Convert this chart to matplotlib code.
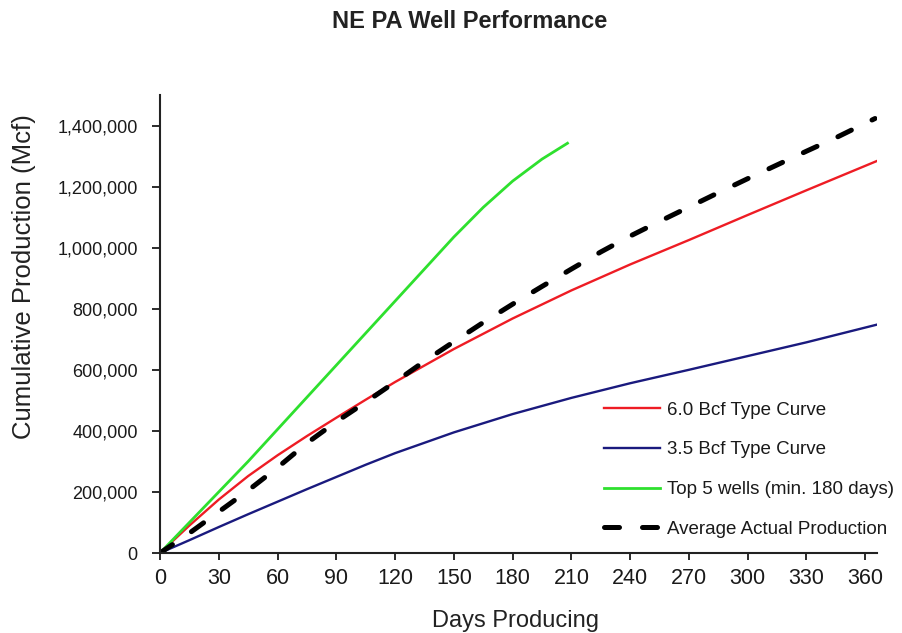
import matplotlib
matplotlib.use("Agg")
import matplotlib.pyplot as plt
from matplotlib.ticker import FuncFormatter

plt.rcParams['font.family'] = ['Liberation Sans', 'DejaVu Sans']

# ---- data ----
days_type = [0, 15, 30, 45, 60, 75, 90, 105, 120, 150, 180, 210, 240, 270, 300, 330, 366]
curve_6_0 = [0, 90000, 175000, 252000, 320000, 383000, 443000, 502000, 560000, 668000,
             768000, 860000, 945000, 1025000, 1107000, 1188000, 1284000]
curve_3_5 = [0, 42000, 85000, 127000, 168000, 209000, 249000, 289000, 327000, 395000,
             455000, 508000, 556000, 600000, 645000, 690000, 748000]

days_top5 = [0, 15, 30, 45, 60, 75, 90, 105, 120, 135, 150, 165, 180, 195, 208]
top5 = [0, 100000, 200000, 300000, 405000, 510000, 615000, 720000, 825000, 930000,
        1035000, 1132000, 1218000, 1290000, 1342000]

days_avg = [0, 15, 30, 45, 60, 75, 90, 105, 120, 135, 150, 165, 180, 195, 210, 225,
            240, 255, 270, 285, 300, 315, 330, 345, 365]
avg_actual = [0, 65000, 135000, 205000, 280000, 360000, 430000, 494000, 560000, 628000,
              692000, 755000, 815000, 873000, 930000, 986000, 1038000, 1086000, 1133000,
              1180000, 1226000, 1271000, 1316000, 1360000, 1423000]

labels = ["6.0 Bcf Type Curve", "3.5 Bcf Type Curve", "Top 5 wells (min. 180 days)",
          "Average Actual Production"]
x_ticks = list(range(0, 361, 30))
y_ticks = list(range(0, 1400001, 200000))

# ---- figure ----
W, H = 902, 633
fig = plt.figure(figsize=(W / 100, H / 100), dpi=100)
ax = fig.add_axes([160 / W, (H - 553) / H, 717 / W, 458 / H])

ax.plot(days_type, curve_6_0, color='#ee1c24', lw=1.7, label=labels[0])
ax.plot(days_type, curve_3_5, color='#1a1a7e', lw=1.7, label=labels[1])
ax.plot(days_top5, top5, color='#2ee02e', lw=2.0, label=labels[2])
ax.plot(days_avg, avg_actual, color='black', lw=3.6, linestyle=(0, (3.0, 4.6)),
        dash_capstyle='round', label=labels[3])

ax.set_xlim(0, 366)
ax.set_ylim(0, 1500000)
ax.set_xticks(x_ticks)
ax.set_yticks(y_ticks)
ax.yaxis.set_major_formatter(FuncFormatter(lambda v, p: f"{int(v):,}"))

for s in ['top', 'right']:
    ax.spines[s].set_visible(False)
for s in ['left', 'bottom']:
    ax.spines[s].set_linewidth(1.5)
    ax.spines[s].set_color('#222222')

ax.tick_params(axis='y', direction='out', length=6, width=1.3, pad=10,
               labelsize=13, colors='#1a1a1a')
ax.tick_params(axis='x', direction='out', length=5, width=1.3, pad=6,
               labelsize=15.5, colors='#1a1a1a')

fig.text(470 / W, 1 - 21 / H, "NE PA Well Performance", ha='center', va='center',
         fontsize=17, fontweight='bold', color='#222222')
fig.text(516 / W, 1 - 621 / H, "Days Producing", ha='center', va='center',
         fontsize=17, color='#222222')
fig.text(24 / W, 1 - 277 / H, "Cumulative Production (Mcf)", ha='center', va='center',
         rotation=90, fontsize=18.5, color='#222222')

leg = ax.legend(loc='upper left', bbox_to_anchor=(600 / W, 1 - 398 / H),
                bbox_transform=fig.transFigure, frameon=True, fontsize=13.5,
                handlelength=3.0, handletextpad=0.35, labelspacing=1.2,
                borderpad=0.2, borderaxespad=0)
leg.get_frame().set_facecolor('white')
leg.get_frame().set_edgecolor('none')
leg.get_frame().set_alpha(1)
for t in leg.get_texts():
    t.set_color('#1a1a1a')

fig.savefig("out.png", dpi=100)
